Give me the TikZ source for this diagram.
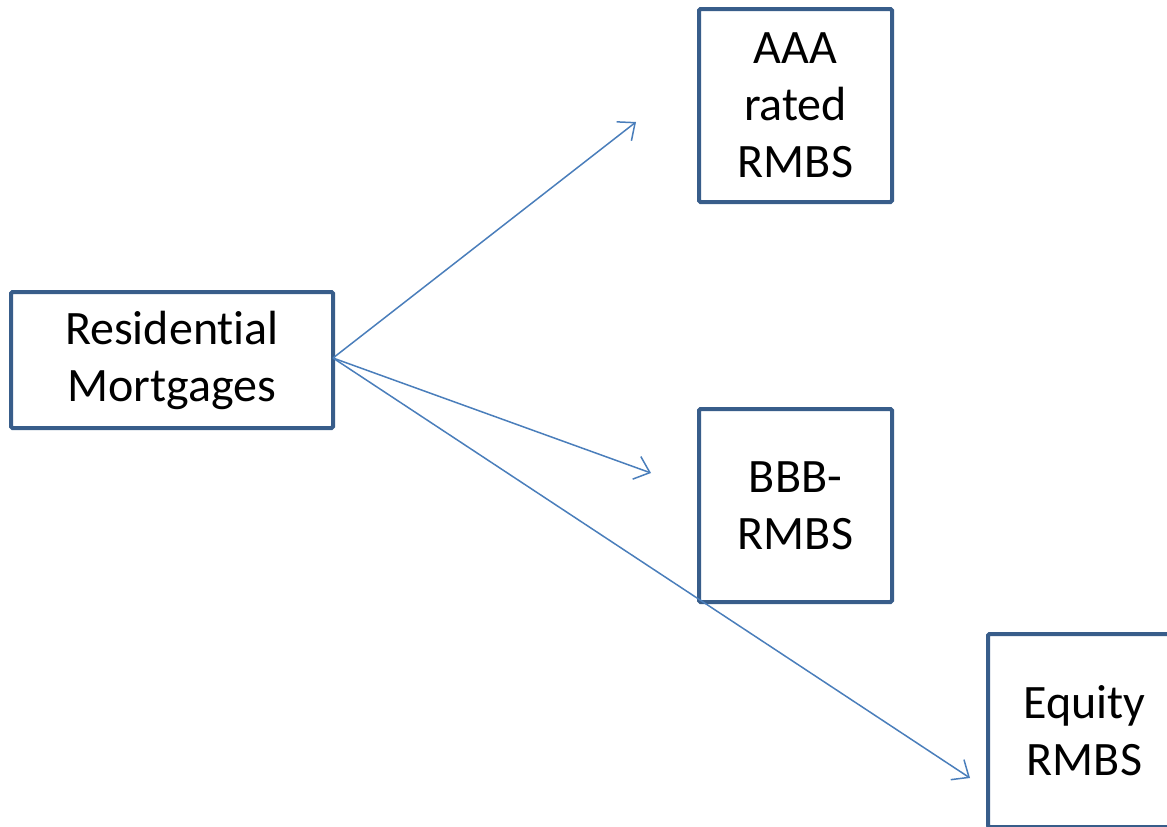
\documentclass[tikz,border=0pt]{standalone}
\usepackage{fontspec}
\setmainfont{Carlito}[Ligatures={NoCommon}]
\usetikzlibrary{arrows.meta}
\definecolor{boxblue}{HTML}{385D8A}
\definecolor{arrowblue}{HTML}{4A7EBB}
\tikzset{
  boxnode/.style={draw=boxblue, line width=4pt, fill=white, rounded corners=1.5pt,
    minimum width=#1, inner sep=0pt, align=center,
    font=\fontsize{48}{57}\selectfont},
  conn/.style={draw=arrowblue, line width=1.5pt, -{Straight Barb[length=14pt,width=24pt,line width=1.5pt]}}
}
\begin{document}
\begin{tikzpicture}[x=1pt,y=-1pt]
\useasboundingbox (0,0) rectangle (1167,827);
\clip (0,0) rectangle (1167,827);
\node[boxnode=322pt, minimum height=136pt] (res) at (172,360) {Residential\\Mortgages};
\node[boxnode=193pt, minimum height=193pt] (aaa) at (795.5,105.5) {AAA\\rated\\RMBS};
\node[boxnode=193pt, minimum height=193pt] (bbb) at (795.5,505.5) {BBB-\\RMBS};
\node[boxnode=193pt, minimum height=193pt] (eq) at (1084.5,730.5) {Equity\\RMBS};
\coordinate (s) at (333,358);
\coordinate (ta) at (636,122);
\coordinate (tb) at (651,473);
\coordinate (te) at (970,778);
\draw[conn] (s) -- (ta);
\draw[conn] (s) -- (tb);
\draw[conn] (s) -- (te);
\end{tikzpicture}
\end{document}
